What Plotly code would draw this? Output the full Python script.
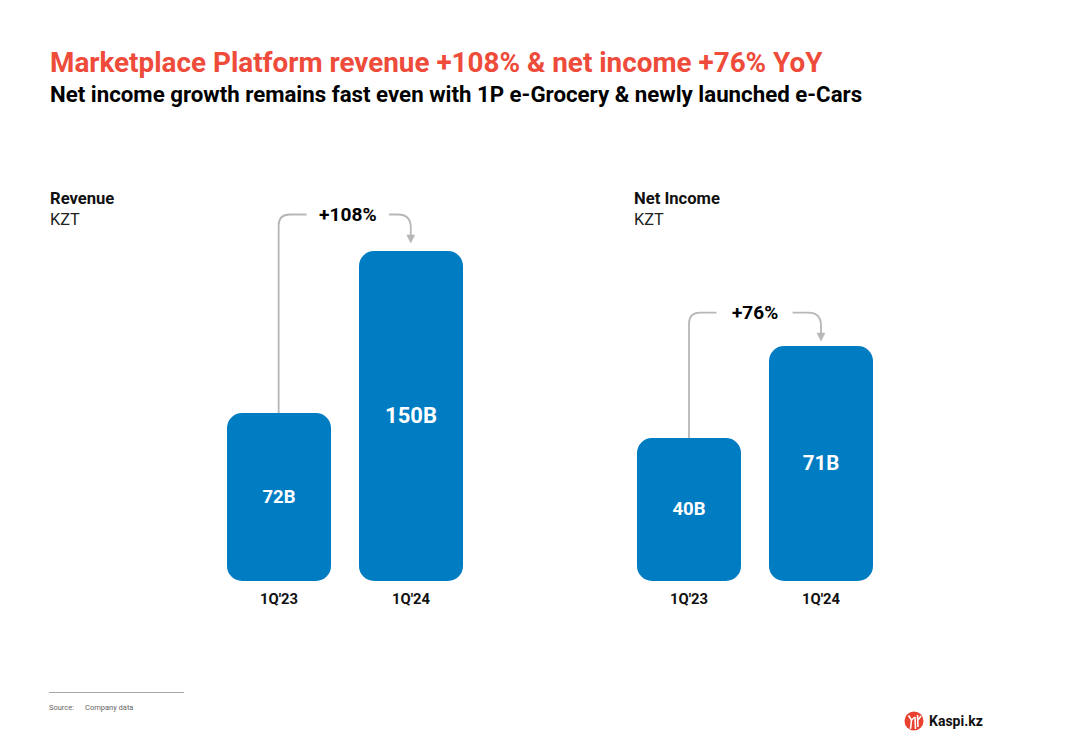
import plotly.graph_objects as go

# ---- data ----
quarters = ["1Q'23", "1Q'24"]
revenue_values = [72, 150]
income_values = [40, 71]
revenue_labels = ["72B", "150B"]
income_labels = ["40B", "71B"]
# the bars in the source do not start at zero: estimated value at the baseline of each panel
revenue_floor = -8.9
income_floor = -8.1
revenue_growth = "+108%"
income_growth = "+76%"

W, H = 1083, 750
BLUE = "#007CC3"
RED = "#EE4B3A"
GREY = "#B7B7B7"
FONT = "Roboto, Arial, sans-serif"
BASE_PX = 581
TOP_PX = 180

def X(px): return px / W
def Y(py): return 1 - py / H

fig = go.Figure()

def panel(xname, yname, values, labels, floor, sizes, px_top):
    # a bar with an explicit base gets all four corners rounded
    fig.add_bar(x=quarters, y=[v - floor for v in values], base=floor,
                marker_color=BLUE, marker_line_width=0, width=104 / 132,
                xaxis=xname, yaxis=yname, hoverinfo="skip", showlegend=False)
    nudge = 1.2 * (values[1] - floor) / (BASE_PX - px_top)   # 1.2 px lower, in axis units
    fig.add_scatter(x=quarters, y=[(v + floor) / 2 - nudge for v in values], mode="text", text=labels,
                    textposition="middle center",
                    textfont=dict(family=FONT, size=sizes, color="white", weight=700),
                    xaxis=xname, yaxis=yname, hoverinfo="skip", showlegend=False)

panel("x", "y", revenue_values, revenue_labels, revenue_floor, [18.5, 22], 251)
panel("x2", "y2", income_values, income_labels, income_floor, [18.5, 20.5], 346)

def yrange(values, floor, px_top):
    scale = (BASE_PX - px_top) / (values[1] - floor)
    return [floor, floor + (BASE_PX - TOP_PX) / scale]

def axis_x(l, r):
    return dict(domain=[X(l), X(r)], range=[-0.5, 1.5], type="category",
                showgrid=False, zeroline=False, showline=False, ticks="",
                tickfont=dict(family=FONT, size=14.8, color="#111111", weight=700),
                ticklabelstandoff=7, fixedrange=True)

def axis_y(anchor, rng):
    return dict(domain=[Y(BASE_PX), Y(TOP_PX)], range=rng, anchor=anchor, visible=False,
                showgrid=False, zeroline=False, fixedrange=True)

def connector(x0, y_bottom, y_top, x1, x2, x3, y_tip, r=11):
    """Grey elbow: up from the first bar, gap for the label, down into the second bar."""
    a = ("M {:.4f} {:.4f} L {:.4f} {:.4f} Q {:.4f} {:.4f} {:.4f} {:.4f} L {:.4f} {:.4f}"
         .format(X(x0), Y(y_bottom), X(x0), Y(y_top + r), X(x0), Y(y_top), X(x0 + r), Y(y_top), X(x1), Y(y_top)))
    b = ("M {:.4f} {:.4f} L {:.4f} {:.4f} Q {:.4f} {:.4f} {:.4f} {:.4f} L {:.4f} {:.4f}"
         .format(X(x2), Y(y_top), X(x3 - r - 2), Y(y_top), X(x3), Y(y_top), X(x3), Y(y_top + r + 2), X(x3), Y(y_tip - 7)))
    head = ("M {:.4f} {:.4f} L {:.4f} {:.4f} L {:.4f} {:.4f} Z"
            .format(X(x3 - 4), Y(y_tip - 8), X(x3 + 4), Y(y_tip - 8), X(x3), Y(y_tip)))
    line = dict(color=GREY, width=1.8)
    return [dict(type="path", path=a, xref="paper", yref="paper", line=line),
            dict(type="path", path=b, xref="paper", yref="paper", line=line),
            dict(type="path", path=head, xref="paper", yref="paper", fillcolor=GREY, line=dict(color=GREY, width=0.5))]

shapes = []
shapes += connector(278.7, 413, 214.5, 306.5, 389, 410.8, 243)
shapes += connector(689, 438, 312.7, 716.5, 792.5, 821, 341)
# footnote rule
shapes.append(dict(type="line", xref="paper", yref="paper", x0=X(49), x1=X(184), y0=Y(692.5), y1=Y(692.5),
                   line=dict(color="#A8A8A8", width=1)))
# logo emblem
shapes.append(dict(type="circle", xref="paper", yref="paper", x0=X(904.5), x1=X(923.5), y0=Y(730.5), y1=Y(711.5),
                   fillcolor="#E8412F", line=dict(width=0)))
white = dict(color="white", width=1.6)
for p in [((910.5, 729), (911.5, 720)), ((911.5, 720), (908.5, 715.5)), ((911.5, 720), (915, 717)),
          ((915, 717), (915.5, 729)), ((917.5, 715), (918, 727)), ((918, 720), (921, 716))]:
    shapes.append(dict(type="line", xref="paper", yref="paper", x0=X(p[0][0]), y0=Y(p[0][1]),
                       x1=X(p[1][0]), y1=Y(p[1][1]), line=white))

def txt(s, x, y, size, color="#000000", weight=400, anchor="left"):
    return dict(text=s, x=X(x), y=Y(y), xref="paper", yref="paper", xanchor=anchor, yanchor="middle",
                showarrow=False, align=anchor, borderpad=0,
                font=dict(family=FONT, size=size, color=color, weight=weight))

annotations = [
    txt("Marketplace Platform revenue +108% &amp; net income +76% YoY", 48.5, 62, 27.85, RED, 700),
    txt("Net income growth remains fast even with 1P e-Grocery &amp; newly launched e-Cars", 48.5, 93.5, 22.28, "#000000", 700),
    txt("Revenue", 49, 198, 16.6, "#111111", 700),
    txt("KZT", 49, 219, 16.3, "#222222", 400),
    txt("Net Income", 633, 198, 16.6, "#111111", 700),
    txt("KZT", 633, 219, 16.3, "#222222", 400),
    txt(revenue_growth, 347.5, 215, 19.2, "#000000", 700, "center"),
    txt(income_growth, 754.5, 312.5, 19, "#000000", 700, "center"),
    txt("Source:", 48, 707, 7.5, "#666666"),
    txt("Company data", 84, 707, 7.5, "#666666"),
    txt("Kaspi.kz", 927.5, 721, 14, "#111111", 700),
]

fig.update_layout(
    width=W, height=H, autosize=False,
    margin=dict(l=0, r=0, t=0, b=0),
    paper_bgcolor="white", plot_bgcolor="white",
    barmode="overlay", barcornerradius=15,
    xaxis=axis_x(213, 477), xaxis2=axis_x(623, 887),
    yaxis=axis_y("x", yrange(revenue_values, revenue_floor, 251)),
    yaxis2=axis_y("x2", yrange(income_values, income_floor, 346)),
    shapes=shapes, annotations=annotations,
)

fig.write_html("out.html", config=dict(displayModeBar=False),
               post_script="document.body.style.margin='0';")
